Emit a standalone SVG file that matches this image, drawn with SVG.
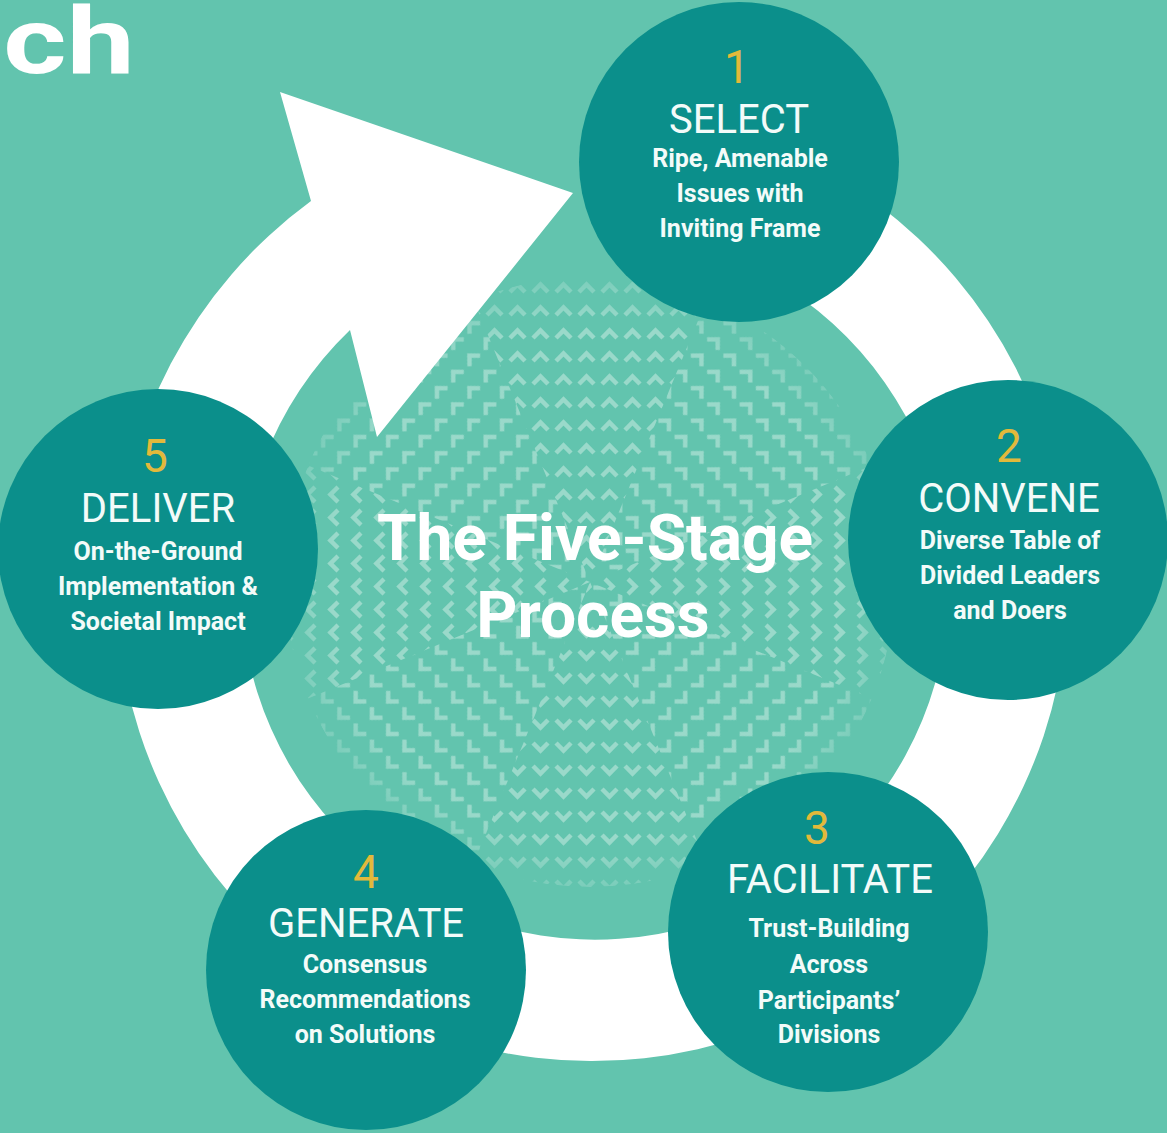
<svg xmlns="http://www.w3.org/2000/svg" width="1167" height="1133" viewBox="0 0 1167 1133">
<style>
.bg{fill:#62c4ae}
.node circle{fill:#0b8f8b}
.num{font-family:Roboto,"Liberation Sans",sans-serif;font-size:46px;fill:#e2b93b;text-anchor:middle}
.ttl{font-family:Roboto,"Liberation Sans",sans-serif;font-size:40px;fill:#f3fbf9;text-anchor:middle}
.sub{font-family:Roboto,"Liberation Sans",sans-serif;font-size:25px;font-weight:700;fill:#f3fbf9;text-anchor:middle}
.mk{fill:none;stroke:#9ad9ca;stroke-width:4.5}
.ring{fill:#ffffff}
.head{font-family:Roboto,"Liberation Sans",sans-serif;font-weight:700;fill:#ffffff;text-anchor:middle}
</style>
<defs>
<pattern id="p0" width="23" height="23" patternUnits="userSpaceOnUse"><path class="mk" d="M4 16 L11.5 8.5 L19 16"/></pattern>
<pattern id="p45" width="23" height="23" patternUnits="userSpaceOnUse" patternTransform="rotate(45)"><path class="mk" d="M4 16 L11.5 8.5 L19 16"/></pattern>
<pattern id="p90" width="23" height="23" patternUnits="userSpaceOnUse" patternTransform="rotate(90)"><path class="mk" d="M4 16 L11.5 8.5 L19 16"/></pattern>
<pattern id="p135" width="23" height="23" patternUnits="userSpaceOnUse" patternTransform="rotate(135)"><path class="mk" d="M4 16 L11.5 8.5 L19 16"/></pattern>
<pattern id="p180" width="23" height="23" patternUnits="userSpaceOnUse" patternTransform="rotate(180)"><path class="mk" d="M4 16 L11.5 8.5 L19 16"/></pattern>
<pattern id="p225" width="23" height="23" patternUnits="userSpaceOnUse" patternTransform="rotate(225)"><path class="mk" d="M4 16 L11.5 8.5 L19 16"/></pattern>
<pattern id="p270" width="23" height="23" patternUnits="userSpaceOnUse" patternTransform="rotate(270)"><path class="mk" d="M4 16 L11.5 8.5 L19 16"/></pattern>
<pattern id="p315" width="23" height="23" patternUnits="userSpaceOnUse" patternTransform="rotate(315)"><path class="mk" d="M4 16 L11.5 8.5 L19 16"/></pattern>
<clipPath id="dot"><circle cx="590" cy="582" r="305"/></clipPath>
<radialGradient id="fade" cx="590" cy="582" r="305" gradientUnits="userSpaceOnUse">
<stop offset="0.85" stop-color="#fff" stop-opacity="1"/>
<stop offset="1" stop-color="#fff" stop-opacity="0.45"/>
</radialGradient>
<mask id="fm"><circle cx="590" cy="582" r="305" fill="url(#fade)"/></mask>
</defs>
<rect class="bg" x="0" y="0" width="1167" height="1133"/>
<text class="head" x="102" y="73" font-size="92" font-weight="900" transform="scale(1.32,1)" style="text-anchor:end">ch</text>
<g id="pattern" clip-path="url(#dot)" mask="url(#fm)">
<polygon points="590,582 1052,391 1052,773" fill="url(#p90)"/>
<polygon points="590,582 1052,773 781,1044" fill="url(#p135)"/>
<polygon points="590,582 781,1044 399,1044" fill="url(#p180)"/>
<polygon points="590,582 399,1044 128,773" fill="url(#p225)"/>
<polygon points="590,582 128,773 128,391" fill="url(#p270)"/>
<polygon points="590,582 128,391 399,120" fill="url(#p315)"/>
<polygon points="590,582 399,120 781,120" fill="url(#p0)"/>
<polygon points="590,582 781,120 1052,391" fill="url(#p45)"/>
</g>
<g id="connectors">
<path class="ring" d="M679.7,117.2 A476,476 0 1 1 311,201 L280,92 L573,193 L377,437 L350,330 A354,354 0 1 0 658.5,237.4 Z"/>
</g>
<g id="node1" class="node">
<circle cx="739" cy="162" r="160"/>
<text class="num" x="737" y="83">1</text>
<text class="ttl" x="739" y="133">SELECT</text>
<text class="sub" x="740" y="167">Ripe, Amenable</text>
<text class="sub" x="740" y="202">Issues with</text>
<text class="sub" x="740" y="237">Inviting Frame</text>
</g>
<g id="node2" class="node">
<circle cx="1008" cy="540" r="160"/>
<text class="num" x="1009" y="462">2</text>
<text class="ttl" x="1009" y="512">CONVENE</text>
<text class="sub" x="1010" y="549">Diverse Table of</text>
<text class="sub" x="1010" y="584">Divided Leaders</text>
<text class="sub" x="1010" y="619">and Doers</text>
</g>
<g id="node3" class="node">
<circle cx="828" cy="932" r="160"/>
<text class="num" x="817" y="844">3</text>
<text class="ttl" x="830" y="893">FACILITATE</text>
<text class="sub" x="829" y="937">Trust-Building</text>
<text class="sub" x="829" y="973">Across</text>
<text class="sub" x="829" y="1009">Participants’</text>
<text class="sub" x="829" y="1043">Divisions</text>
</g>
<g id="node4" class="node">
<circle cx="366" cy="970" r="160"/>
<text class="num" x="366" y="888">4</text>
<text class="ttl" x="366" y="937">GENERATE</text>
<text class="sub" x="365" y="973">Consensus</text>
<text class="sub" x="365" y="1008">Recommendations</text>
<text class="sub" x="365" y="1043">on Solutions</text>
</g>
<g id="node5" class="node">
<circle cx="158" cy="549" r="160"/>
<text class="num" x="155" y="472">5</text>
<text class="ttl" x="158" y="522">DELIVER</text>
<text class="sub" x="158" y="560">On-the-Ground</text>
<text class="sub" x="158" y="595">Implementation &amp;</text>
<text class="sub" x="158" y="630">Societal Impact</text>
</g>
<g id="title">
<text class="head" x="595" y="560" font-size="64">The Five-Stage</text>
<text class="head" x="593" y="637" font-size="64">Process</text>
</g>
</svg>
